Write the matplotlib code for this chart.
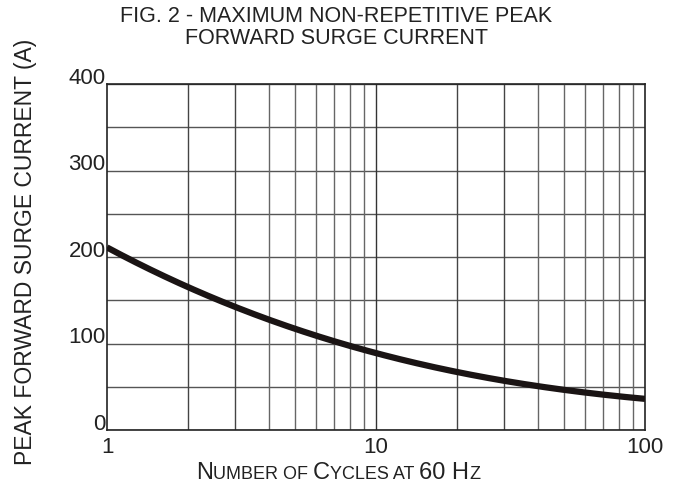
import numpy as np
import matplotlib
matplotlib.use("Agg")
import matplotlib.pyplot as plt
from matplotlib.offsetbox import TextArea, HPacker, AnchoredOffsetbox
from matplotlib.transforms import ScaledTranslation

cycles = [1, 2, 3, 4, 5, 6, 7, 10, 20, 30, 40, 50, 60, 100]
current = [211, 165, 144, 127, 116, 108, 102, 91, 67, 57, 50, 46, 44, 36]
yticks = [0, 100, 200, 300, 400]
xticks = [1, 10, 100]
xticklabels = ["1", "10", "100"]

fam = ["Liberation Sans", "DejaVu Sans"]
plt.rcParams['font.family'] = fam
ink = "#222222"

fig = plt.figure(figsize=(6.79, 4.87), dpi=100)
ax = fig.add_axes([0.1576, 0.117, 0.7924, 0.7105])
ax.set_xscale("log")
ax.set_xlim(1, 100)
ax.set_ylim(0, 400)

# smooth curve through the read points (in log-x space)
lx = np.log10(cycles)
xs = np.linspace(0, 2, 300)
coef = np.polyfit(lx, current, 3)
ys = np.polyval(coef, xs)
ax.plot(10 ** xs, ys, color="#1a1414", lw=4.5, solid_capstyle="butt", zorder=3)

# grid
for v in range(0, 401, 50):
    ax.axhline(v, color="#555555", lw=1.0, zorder=1)
for dec in [1, 10]:
    for m in range(2, 10):
        ax.axvline(dec * m, color="#666666" if m not in (2, 3) else "#444444", lw=1.0, zorder=1)
ax.axvline(10, color="#333333", lw=1.0, zorder=1)

for s in ax.spines.values():
    s.set_color(ink)
    s.set_linewidth(1.2)

ax.set_yticks(yticks)
ax.set_yticklabels([str(v) for v in yticks])
ax.set_xticks(xticks)
ax.set_xticklabels(xticklabels)
ax.minorticks_off()
ax.tick_params(axis="both", length=0, labelsize=16, colors=ink)
ax.tick_params(axis="y", pad=1)
ax.tick_params(axis="x", pad=5)
up = ScaledTranslation(0, 4 / 72, fig.dpi_scale_trans)
for lab in ax.get_yticklabels():
    lab.set_verticalalignment("center")
    lab.set_transform(lab.get_transform() + up)

fig.text(0.495, 0.988, "FIG. 2 - MAXIMUM NON-REPETITIVE PEAK\nFORWARD SURGE CURRENT",
         ha="center", va="top", fontsize=15.5, color=ink, linespacing=1.08)

fig.text(0.038, 0.4825, "PEAK FORWARD SURGE CURRENT (A)", rotation=90, ha="center", va="center",
         fontsize=16.5, color=ink)

# small-caps x label
parts = [("N", 17), ("UMBER OF ", 13), ("C", 17), ("YCLES AT ", 13), ("60 H", 17), ("Z", 13)]
boxes = [TextArea(t, textprops=dict(fontsize=s, color=ink, family=fam)) for t, s in parts]
pk = HPacker(children=boxes, align="baseline", pad=0, sep=0)
ab = AnchoredOffsetbox(loc="center", child=pk, frameon=False,
                       bbox_to_anchor=(0.498, 0.028), bbox_transform=fig.transFigure, pad=0, borderpad=0)
fig.add_artist(ab)

fig.savefig("out.png", dpi=100)
